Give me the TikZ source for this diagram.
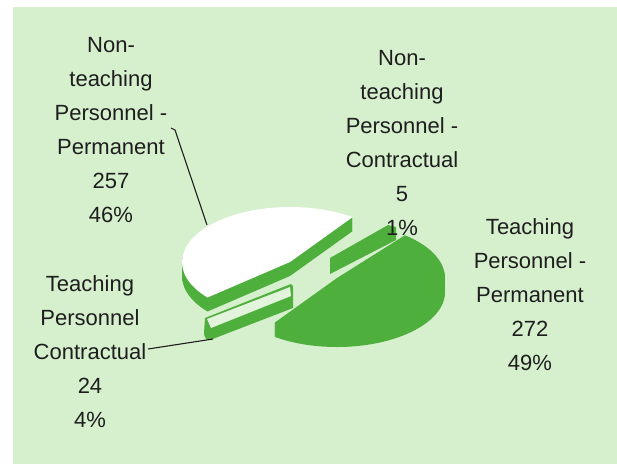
\documentclass[tikz,border=0pt]{standalone}
\usepackage{fontspec}
\setmainfont{Liberation Sans}
\usetikzlibrary{calc}
\definecolor{bgcol}{RGB}{214,240,206}
\definecolor{piecol}{RGB}{78,175,60}
\definecolor{palecol}{RGB}{226,244,219}
\definecolor{inkcol}{RGB}{30,30,30}
\tikzset{
  lbl/.style={align=center, inner sep=0pt, font=\fontsize{22}{34}\selectfont, text=inkcol},
  leader/.style={line width=1.1pt, draw=inkcol},
}
% cx, cy, start angle, end angle, top colour, side colour
\newcommand\mkslice[6]{%
  \foreach \dd in {14,13,...,1}{%
    \fill[#6] (#1,#2+\dd) -- ({#1+108*cos(#3)},{#2+\dd+55*sin(#3)})
      arc[start angle=#3, end angle=#4, x radius=108, y radius=55] -- cycle;}
  \fill[#5] (#1,#2) -- ({#1+108*cos(#3)},{#2+55*sin(#3)})
      arc[start angle=#3, end angle=#4, x radius=108, y radius=55] -- cycle;
}
\begin{document}
\begin{tikzpicture}[x=1pt,y=-1pt]
\useasboundingbox (0,0) rectangle (617,464);
\fill[white] (0,0) rectangle (617,464);
\fill[bgcol] (13,7) rectangle (617,464);
% pie slices (back to front)
% Non-teaching Personnel - Permanent (white top, green side)
\mkslice{290}{262}{139.8}{305.4}{white}{piecol}
% Non-teaching Personnel - Contractual (thin sliver)
\fill[piecol] (330,258) -- (388,225) -- (396,227) -- (396,240) -- (330,274) -- cycle;
% Teaching Personnel Contractual (pale top, green side)
\fill[piecol] (205,318) -- (291,284) -- (293,286) -- (293,308) -- (210,340)
  to[out=200,in=-90] (204,333) -- cycle;
\fill[palecol] (207,319) -- (290,287) -- (291,296) -- (211,328) -- cycle;
% Teaching Personnel - Permanent
\mkslice{337}{278}{-51}{125.4}{piecol}{piecol}
% labels
\node[lbl] (ntp) at (111,130) {Non-\\teaching\\Personnel -\\Permanent\\257\\46\%};
\node[lbl] (ntc) at (402,143) {Non-\\teaching\\Personnel -\\Contractual\\5\\1\%};
\node[lbl] (tp) at (530,295) {Teaching\\Personnel -\\Permanent\\272\\49\%};
\node[lbl] (tc) at (90,352) {Teaching\\Personnel\\Contractual\\24\\4\%};
% leader lines
\coordinate (ntpA) at (171,128);
\coordinate (ntpB) at (175,130);
\coordinate (ntpC) at (207,225);
\draw[leader] (ntpA) -- (ntpB) -- (ntpC);
\coordinate (tcA) at (148,349);
\coordinate (tcB) at (213,339);
\draw[leader] (tcA) -- (tcB);
\end{tikzpicture}
\end{document}
